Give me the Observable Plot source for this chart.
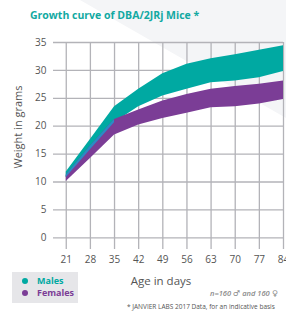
<!DOCTYPE html>
<html>
<head>
<meta charset="utf-8">
<script src="https://cdn.jsdelivr.net/npm/d3@7"></script>
<script src="https://cdn.jsdelivr.net/npm/@observablehq/plot@0.6"></script>
<style>
  html, body { margin: 0; padding: 0; background: #fff; overflow: hidden; }
  #wrap { position: relative; width: 286px; height: 311px; font-family: "Open Sans", sans-serif; overflow: hidden; }
  #bgshape { position: absolute; left: 0; top: 0; width: 286px; height: 311px; background: #f4f5f7;
             clip-path: polygon(80px 0, 286px 0, 286px 118px); }
  #chart { position: absolute; left: 0; top: 0; }
  .t { position: absolute; white-space: nowrap; }
  .sym { font-family: "DejaVu Sans", sans-serif; font-style: normal; font-size: 8px; }
</style>
</head>
<body>
<div id="wrap">
  <div id="bgshape"></div>
  <div id="chart"></div>
  <div class="t" style="left:30px; top:8px; font-size:10.5px; font-weight:700; color:#12a9a2;">Growth curve of DBA/2JRj Mice *</div>
  <div class="t" style="left:17px; top:127px; font-size:11px; color:#555; transform: translate(-50%,-50%) rotate(-90deg);">Weight in grams</div>
  <div class="t" style="left:161px; top:280px; font-size:11.5px; color:#555; transform: translate(-50%,-50%);">Age in days</div>
  <div id="legend" style="position:absolute; left:12px; top:272px; width:66px; height:31px; background:#e6e6e9;"></div>
  <div class="t" style="left:210px; top:288px; font-size:7.5px; font-style:italic; font-weight:600; color:#8a8a8a;">n=160 <span class="sym">♂</span> and 160 <span class="sym">♀</span></div>
  <div class="t" style="left:127px; top:302px; font-size:6.5px; color:#555;">* JANVIER LABS 2017 Data, for an indicative basis</div>
</div>
<script>
const days = [21, 28, 35, 42, 49, 56, 63, 70, 77, 84];
const malesLow    = [10.8, 15.8, 20.6, 23.5, 25.4, 26.6, 27.8, 28.1, 28.7, 29.8];
const malesHigh   = [11.8, 17.6, 23.5, 26.6, 29.4, 31.1, 32.1, 32.8, 33.6, 34.4];
const femalesLow  = [10.1, 14.2, 18.4, 20.2, 21.4, 22.3, 23.3, 23.5, 24.0, 24.8];
const femalesHigh = [11.2, 16.4, 21.2, 22.9, 24.5, 25.7, 26.6, 27.1, 27.5, 28.1];
const yTicks = [0, 5, 10, 15, 20, 25, 30, 35];
const seriesNames = ["Males", "Females"];
const seriesColors = ["#00a9a2", "#7b3d96"];
const overlapColor = "#2a8cc6";

const rows = days.map((d, i) => ({
  day: d, mLo: malesLow[i], mHi: malesHigh[i], fLo: femalesLow[i], fHi: femalesHigh[i],
  oLo: Math.max(malesLow[i], femalesLow[i]), oHi: Math.min(malesHigh[i], femalesHigh[i])
}));
const overlap = rows.filter(r => r.oHi > r.oLo);

const grid = "#b3b3b8";
const chart = Plot.plot({
  width: 286,
  height: 311,
  marginTop: 42,
  marginBottom: 62,
  marginLeft: 53,
  marginRight: 3,
  style: { fontFamily: "Open Sans, sans-serif", fontSize: "10px", color: "#555", background: "transparent", overflow: "visible" },
  x: { domain: [17.3, 84] },
  y: { domain: [-2.1, 35] },
  marks: [
    Plot.ruleY(yTicks, { stroke: grid, strokeWidth: 1.3 }),
    Plot.ruleX(days, { stroke: grid, strokeWidth: 1.3 }),
    Plot.areaY(rows, { x: "day", y1: "mLo", y2: "mHi", fill: seriesColors[0] }),
    Plot.areaY(rows, { x: "day", y1: "fLo", y2: "fHi", fill: seriesColors[1] }),
    Plot.areaY(overlap, { x: "day", y1: "oLo", y2: "oHi", fill: overlapColor }),
    Plot.axisY({ ticks: yTicks, tickSize: 0, tickPadding: 7, label: null, fill: "#555" }),
    Plot.axisX({ ticks: days, tickSize: 0, tickPadding: 6, label: null, fill: "#555" })
  ]
});
document.getElementById("chart").appendChild(chart);

// legend
const legend = d3.select("#legend");
seriesNames.forEach((n, i) => {
  legend.append("div")
    .style("position", "absolute").style("left", "10px").style("top", (6 + i * 12) + "px")
    .style("width", "6px").style("height", "6px").style("border-radius", "50%")
    .style("background", seriesColors[i]);
  legend.append("div")
    .style("position", "absolute").style("left", "25px").style("top", (2 + i * 12) + "px")
    .style("font-size", "9px").style("font-weight", "700").style("color", seriesColors[i])
    .style("white-space", "nowrap")
    .text(n);
});
</script>
</body>
</html>
